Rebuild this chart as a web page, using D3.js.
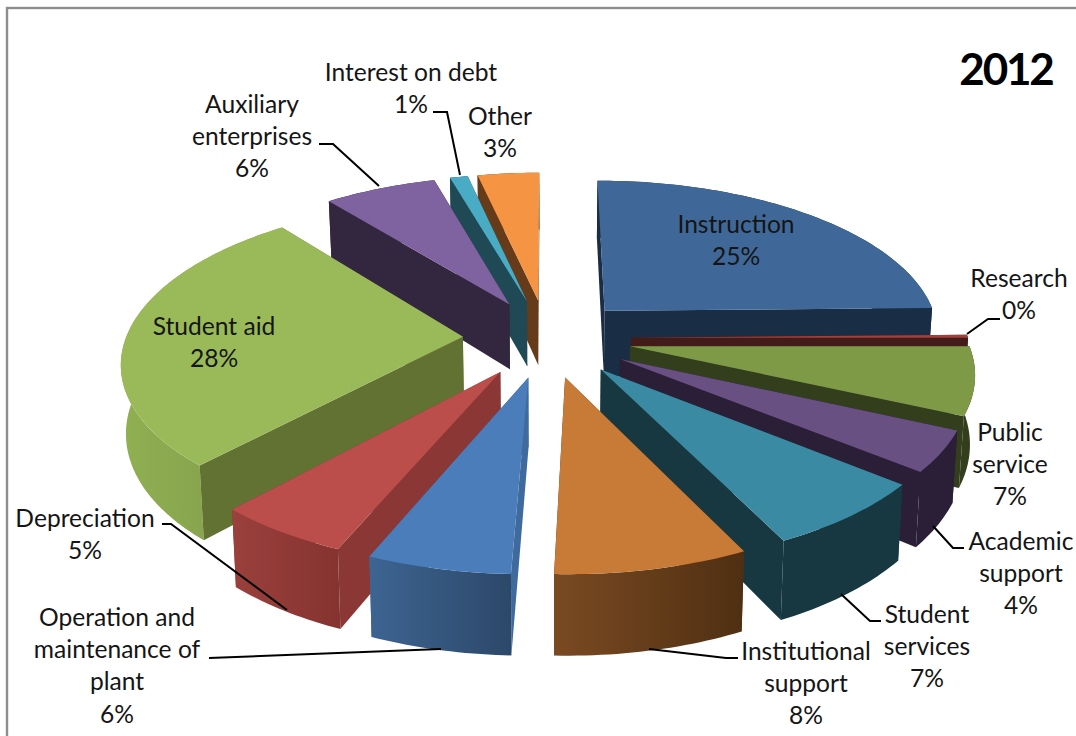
<!DOCTYPE html>
<html>
<head>
<meta charset="utf-8">
<script src="https://cdn.jsdelivr.net/npm/d3@7"></script>
<style>
  html, body { margin: 0; padding: 0; background: #fff; }
  svg { display: block; }
  text { font-family: Lato, "Open Sans", sans-serif; fill: #151515; }
</style>
</head>
<body>
<svg id="chart" width="1076" height="736"></svg>
<script>
// Spending shares, clockwise from twelve o'clock; labels show them rounded.
const categories = ["Instruction", "Research", "Public service", "Academic support", "Student services",
  "Institutional support", "Operation and maintenance of plant", "Depreciation", "Student aid",
  "Auxiliary enterprises", "Interest on debt", "Other"];
const shares = [24.7, 0.3, 6.8, 4.1, 6.9, 7.75, 5.75, 5.45, 27.5, 6.3, 1.0, 3.45];

const title = "2012";

// Face colours: top, radial wall, outer wall from its left end to its right end.
const topColors = ["#3f6898", "#a0403c", "#7e9a47", "#695083", "#3b8aa3", "#c87a37", "#4a7db9", "#bb4e4b", "#9aba59", "#7f62a0", "#4aabc5", "#f59544"];
const wallColors = ["#192d44", "#431b18", "#333e1c", "#2a1f36", "#173841", "#52300f", "#3f6a9e", "#8a3735", "#617233", "#33263f", "#1f4a55", "#663b1a"];
const outerLeft = ["#192d44", "#431b18", "#333e1c", "#2a1f36", "#173841", "#7a4a22", "#3d6492", "#9a403d", "#90b053", "#33263f", "#1f4a55", "#663b1a"];
const outerRight = ["#192d44", "#431b18", "#333e1c", "#2a1f36", "#173841", "#4f2f12", "#2c4869", "#85332f", "#7f9a47", "#33263f", "#1f4a55", "#663b1a"];

// Label block centres and wrapped lines; the percentage line is added from the share.
const labelLines = [["Instruction"], ["Research"], ["Public", "service"], ["Academic", "support"], ["Student", "services"],
  ["Institutional", "support"], ["Operation and", "maintenance of", "plant"], ["Depreciation"], ["Student aid"],
  ["Auxiliary", "enterprises"], ["Interest on debt"], ["Other"]];
const labelX = [736, 1019, 1010, 1021, 927, 806, 117, 85, 214, 252, 411, 500];
const labelY = [224, 278, 432, 541, 614, 651, 617, 518, 326, 104, 72, 116];

const leaders = [
  [[1000, 319], [988, 319], [967, 334]],
  [[964, 548], [953, 548], [933, 526]],
  [[881, 621], [870, 621], [841, 594]],
  [[738, 658], [726, 658], [649, 649]],
  [[209, 658], [441, 649]],
  [[162, 524], [171, 524], [287, 610]],
  [[319, 144], [333, 144], [379, 186]],
  [[433, 112], [447, 112], [460, 175]]
];

// Perspective view of the exploded disc.
const view = { cx: 547, cy: 338, radius: 337, tilt: 156, persp: 0.143, depth: 67, shrink: 0.012, explode: 0.25 };

function project(u, v, z) {
  const w = 1 / (1 - view.persp * v);
  const s = 1 - view.shrink * z;
  return [view.cx + view.radius * u * w * s, view.cy + view.tilt * v * w + view.depth * z * w];
}

const svg = d3.select("#chart");
const defs = svg.append("defs");
const line = d3.line();

svg.append("rect").attr("x", 7).attr("y", 8).attr("width", 1100).attr("height", 800)
  .attr("fill", "#fff").attr("stroke", "#8e8e8e").attr("stroke-width", 2.4);

const pie = d3.pie().sort(null).value(d => d);
const arcs = pie(shares).map((d, i) => {
  const mid = (d.startAngle + d.endAngle) / 2;
  return { i, a0: d.startAngle, a1: d.endAngle, mid,
    ox: view.explode * Math.sin(mid), oy: -view.explode * Math.cos(mid) };
});

// Painter's order: slices further from the viewer first.
const order = arcs.slice().sort((a, b) => a.oy - b.oy);

order.forEach(s => {
  const g = svg.append("g").attr("class", "slice");
  const steps = Math.max(4, Math.ceil((s.a1 - s.a0) / 0.02));
  const angles = d3.range(steps + 1).map(k => s.a0 + (s.a1 - s.a0) * k / steps);
  const rim = z => angles.map(a => project(s.ox + Math.sin(a), s.oy - Math.cos(a), z));
  const apex = z => project(s.ox, s.oy, z);
  const rimTop = rim(0), rimBot = rim(1);

  const gradId = "outer" + s.i;
  const xs = rimTop.concat(rimBot).map(p => p[0]);
  const grad = defs.append("linearGradient").attr("id", gradId).attr("gradientUnits", "userSpaceOnUse")
    .attr("x1", d3.min(xs)).attr("x2", d3.max(xs)).attr("y1", 0).attr("y2", 0);
  grad.append("stop").attr("offset", 0).attr("stop-color", outerLeft[s.i]);
  grad.append("stop").attr("offset", 1).attr("stop-color", outerRight[s.i]);

  const faces = [
    { pts: [apex(0), rimTop[0], rimBot[0], apex(1)], fill: wallColors[s.i], depth: s.oy - Math.cos(s.a0) / 2 },
    { pts: [apex(0), rimTop[steps], rimBot[steps], apex(1)], fill: wallColors[s.i], depth: s.oy - Math.cos(s.a1) / 2 },
    { pts: rimTop.concat(rimBot.slice().reverse()), fill: `url(#${gradId})`, depth: s.oy - Math.cos(s.mid) }
  ].sort((a, b) => a.depth - b.depth);

  faces.forEach(f => g.append("path").attr("d", line(f.pts) + "Z").attr("fill", f.fill));
  g.append("path").attr("d", line([apex(0)].concat(rimTop)) + "Z").attr("fill", topColors[s.i]);
});

svg.append("g").selectAll("path").data(leaders).join("path")
  .attr("d", d => line(d)).attr("fill", "none").attr("stroke", "#000").attr("stroke-width", 2);

const lineStep = 32.2;
const labels = svg.append("g").selectAll("text").data(categories).join("text")
  .attr("text-anchor", "middle").attr("font-size", 24.6);
labels.each(function (d, i) {
  const rows = labelLines[i].concat(Math.round(shares[i]) + "%");
  d3.select(this).selectAll("tspan").data(rows).join("tspan")
    .attr("x", labelX[i]).attr("y", (r, k) => labelY[i] + 9 + k * lineStep).text(r => r);
});

svg.append("text").attr("x", 1006).attr("y", 85).attr("text-anchor", "middle")
  .attr("font-size", 44).attr("font-weight", 700).attr("letter-spacing", -2.2).style("fill", "#000").text(title);
</script>
</body>
</html>
